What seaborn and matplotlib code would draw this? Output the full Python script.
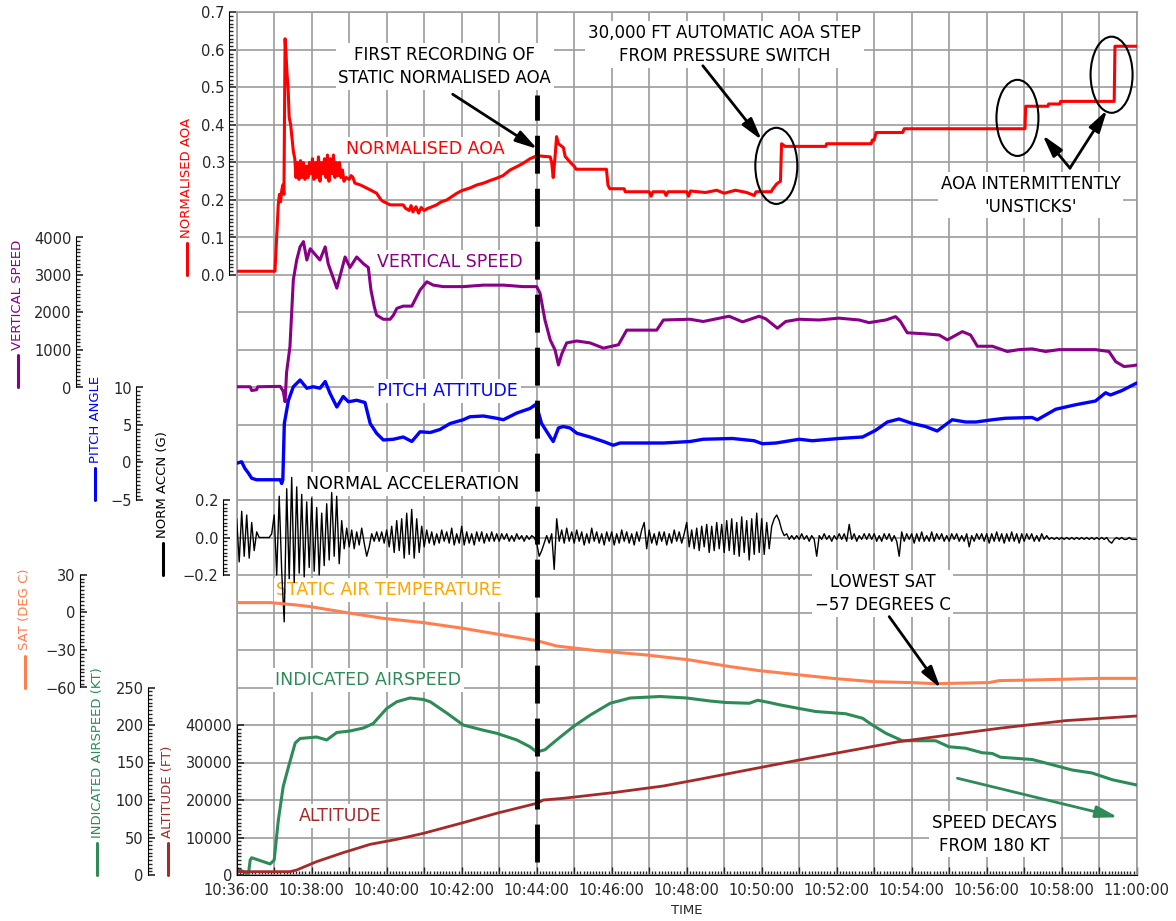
import numpy as np
import pandas as pd
import seaborn as sns
import matplotlib.pyplot as plt
from matplotlib.ticker import FuncFormatter
from matplotlib.patches import Ellipse
from matplotlib.lines import Line2D

sns.set_style("white")
plt.rcParams["font.family"] = ["DejaVu Sans"]

# time is minutes after 10:36:00
AOA = [(0.00, 0.010), (1.02, 0.010), (1.07, 0.110), (1.11, 0.190), (1.14, 0.215), (1.17, 0.195),
       (1.20, 0.225), (1.23, 0.240), (1.26, 0.215), (1.29, 0.630), (1.31, 0.600), (1.34, 0.540),
       (1.37, 0.500), (1.40, 0.420), (1.44, 0.400), (1.47, 0.370), (1.51, 0.330), (1.55, 0.310),
       (1.58, 0.260), (1.62, 0.300), (1.66, 0.255), (1.70, 0.305), (1.74, 0.260), (1.78, 0.300),
       (1.82, 0.255), (1.86, 0.290), (1.90, 0.260), (1.94, 0.300), (1.98, 0.270), (2.02, 0.310),
       (2.06, 0.255), (2.10, 0.300), (2.14, 0.260), (2.18, 0.315), (2.22, 0.250), (2.26, 0.300),
       (2.30, 0.270), (2.34, 0.310), (2.38, 0.260), (2.42, 0.320), (2.46, 0.250), (2.50, 0.310),
       (2.54, 0.270), (2.58, 0.320), (2.62, 0.260), (2.66, 0.300), (2.70, 0.265), (2.74, 0.300),
       (2.78, 0.260), (2.82, 0.280), (2.86, 0.250), (2.92, 0.260), (3.00, 0.255), (3.05, 0.265),
       (3.10, 0.260), (3.15, 0.245), (3.30, 0.240), (3.38, 0.236), (3.56, 0.227), (3.73, 0.218),
       (3.85, 0.200), (3.91, 0.196), (4.09, 0.187), (4.44, 0.187), (4.50, 0.178), (4.60, 0.172),
       (4.65, 0.185), (4.70, 0.168), (4.78, 0.182), (4.85, 0.165), (4.92, 0.180), (5.00, 0.172),
       (5.10, 0.178), (5.16, 0.180), (5.33, 0.187), (5.45, 0.195), (5.60, 0.200), (5.75, 0.210),
       (5.87, 0.218), (6.00, 0.225), (6.22, 0.232), (6.40, 0.240), (6.58, 0.245), (6.76, 0.252),
       (6.93, 0.258), (7.10, 0.265), (7.29, 0.280), (7.45, 0.288), (7.64, 0.298), (7.82, 0.310),
       (8.00, 0.318), (8.36, 0.315), (8.40, 0.300), (8.44, 0.260), (8.49, 0.316), (8.53, 0.369),
       (8.58, 0.350), (8.71, 0.340), (8.76, 0.316), (8.90, 0.300), (9.00, 0.290), (9.05, 0.282),
       (9.86, 0.282), (9.90, 0.240), (9.95, 0.230), (10.33, 0.230), (10.36, 0.222), (11.00, 0.222),
       (11.05, 0.210), (11.10, 0.222), (11.40, 0.222), (11.45, 0.212), (11.50, 0.222), (12.00, 0.222),
       (12.05, 0.210), (12.10, 0.224), (12.50, 0.220), (12.80, 0.226), (13.00, 0.218), (13.30, 0.226),
       (13.60, 0.220), (13.80, 0.212), (13.85, 0.222), (14.25, 0.222), (14.30, 0.230), (14.40, 0.243),
       (14.50, 0.250), (14.53, 0.350), (14.62, 0.343), (15.71, 0.343), (15.73, 0.350), (16.92, 0.350),
       (16.95, 0.360), (17.00, 0.360), (17.05, 0.380), (17.76, 0.380), (17.80, 0.390), (21.02, 0.390),
       (21.04, 0.450), (21.63, 0.450), (21.65, 0.456), (21.95, 0.456), (21.97, 0.463), (23.40, 0.463),
       (23.42, 0.610), (24.00, 0.610)]

VSPEED = [(0.00, 20), (0.36, 20), (0.40, -80), (0.53, -60), (0.56, 20), (1.16, 30), (1.24, -100),
          (1.29, -380), (1.33, 400), (1.42, 1090), (1.51, 2870), (1.60, 3400), (1.69, 3750),
          (1.78, 3890), (1.87, 3400), (1.96, 3700), (2.09, 3550), (2.22, 3400), (2.36, 3750),
          (2.44, 3300), (2.67, 2650), (2.89, 3480), (3.02, 3200), (3.20, 3480), (3.38, 3300),
          (3.51, 3200), (3.58, 2600), (3.67, 2150), (3.73, 1930), (3.91, 1820), (4.09, 1820),
          (4.18, 1930), (4.27, 2110), (4.44, 2170), (4.67, 2170), (4.76, 2350), (4.89, 2600),
          (5.07, 2820), (5.24, 2730), (5.51, 2690), (6.04, 2690), (6.58, 2730), (7.11, 2730),
          (7.64, 2690), (8.00, 2690), (8.09, 2510), (8.22, 1800), (8.36, 1270), (8.49, 1000),
          (8.58, 600), (8.67, 900), (8.80, 1190), (9.07, 1240), (9.42, 1190), (9.78, 1050),
          (10.18, 1140), (10.40, 1530), (10.67, 1530), (11.20, 1530), (11.38, 1800), (12.09, 1820),
          (12.44, 1760), (13.13, 1900), (13.49, 1750), (13.93, 1900), (14.11, 1830), (14.42, 1580),
          (14.64, 1760), (15.00, 1820), (15.53, 1800), (16.06, 1850), (16.60, 1800), (16.86, 1730),
          (17.31, 1800), (17.57, 1890), (17.70, 1760), (17.88, 1460), (18.37, 1430), (18.73, 1400),
          (18.95, 1270), (19.35, 1490), (19.57, 1400), (19.75, 1100), (20.15, 1100), (20.55, 960),
          (20.86, 1010), (21.21, 1030), (21.57, 960), (21.93, 1010), (22.28, 1010), (22.90, 1010),
          (23.26, 960), (23.44, 690), (23.66, 560), (23.88, 580), (24.00, 600)]

PITCH = [(0.00, -0.1), (0.13, 0.1), (0.22, -0.8), (0.31, -1.4), (0.40, -2.1), (0.53, -2.3),
         (1.16, -2.3), (1.20, -2.8), (1.23, -2.3), (1.27, 5.2), (1.38, 8.3), (1.51, 10.1),
         (1.69, 11.0), (1.87, 9.9), (2.04, 10.1), (2.22, 9.9), (2.36, 10.8), (2.49, 9.2),
         (2.67, 7.4), (2.84, 8.8), (2.98, 8.1), (3.20, 8.3), (3.42, 8.0), (3.56, 5.2), (3.73, 3.9),
         (3.91, 3.0), (4.18, 3.1), (4.44, 3.4), (4.67, 2.8), (4.89, 4.1), (5.16, 4.0), (5.42, 4.4),
         (5.69, 5.2), (6.04, 5.7), (6.22, 6.1), (6.58, 6.2), (6.93, 5.9), (7.11, 5.7), (7.47, 6.6),
         (7.82, 7.2), (7.96, 7.7), (8.04, 6.8), (8.13, 5.2), (8.36, 3.4), (8.44, 2.8), (8.58, 4.6),
         (8.71, 4.8), (8.89, 4.6), (9.07, 3.9), (9.42, 3.4), (9.78, 2.8), (10.04, 2.3), (10.22, 2.6),
         (10.67, 2.6), (11.38, 2.6), (12.09, 2.8), (12.44, 3.1), (13.22, 3.2), (13.80, 2.9),
         (14.02, 2.5), (14.38, 2.6), (15.00, 3.1), (15.35, 2.9), (16.06, 3.2), (16.69, 3.4),
         (17.04, 4.3), (17.35, 5.4), (17.66, 5.8), (18.02, 5.2), (18.37, 4.8), (18.68, 4.2),
         (19.08, 5.7), (19.44, 5.4), (19.71, 5.4), (20.15, 5.7), (20.50, 5.9), (21.21, 6.0),
         (21.35, 5.7), (21.84, 7.1), (22.37, 7.7), (22.90, 8.2), (23.17, 9.3), (23.30, 9.0),
         (23.61, 9.6), (24.00, 10.6)]

# normal acceleration, one row per minute, 15 samples (4 s apart)
ACCN_ROWS = [
    [0.10, -0.13, 0.14, -0.10, 0.12, -0.11, 0.08, -0.07, 0.03, 0.00, 0.00, 0.00, 0.00, 0.00, 0.02],
    [0.12, -0.20, 0.22, -0.18, -0.45, 0.26, -0.22, 0.32, -0.24, 0.27, -0.19, 0.23, -0.21, 0.19, -0.16],
    [0.21, -0.18, 0.16, -0.20, 0.13, -0.15, 0.18, -0.12, 0.24, -0.10, 0.22, -0.14, 0.09, -0.06, 0.05],
    [-0.05, 0.04, -0.06, 0.03, -0.04, 0.05, -0.03, -0.10, -0.05, 0.02, -0.02, 0.03, -0.02, 0.03, -0.03],
    [0.04, -0.05, 0.06, -0.08, 0.09, -0.07, 0.10, -0.11, 0.13, -0.09, 0.15, -0.11, 0.10, -0.08, 0.06],
    [-0.05, 0.04, -0.03, 0.03, -0.04, 0.02, -0.03, 0.04, -0.02, 0.03, -0.03, 0.05, -0.04, 0.02, -0.03],
    [0.06, -0.04, 0.03, -0.03, 0.02, -0.04, 0.03, -0.02, 0.03, -0.03, 0.02, -0.02, 0.03, -0.02, 0.02],
    [-0.02, 0.02, -0.01, 0.02, -0.02, 0.01, -0.02, 0.02, -0.01, 0.01, -0.02, 0.01, -0.01, 0.01, 0.00],
    [-0.03, -0.10, -0.07, -0.03, 0.01, -0.03, 0.02, -0.17, 0.10, -0.02, 0.04, -0.03, 0.05, -0.02, 0.03],
    [-0.03, 0.04, -0.02, 0.03, -0.04, 0.02, -0.03, 0.05, -0.02, 0.03, -0.03, 0.02, -0.04, 0.03, -0.02],
    [0.03, -0.04, 0.02, -0.03, 0.04, -0.02, 0.03, -0.03, 0.02, -0.04, 0.03, -0.02, 0.04, 0.08, -0.06],
    [0.04, -0.03, 0.02, -0.04, 0.03, -0.02, 0.03, -0.04, 0.02, -0.03, 0.04, -0.02, 0.03, -0.03, 0.02],
    [0.08, -0.05, 0.04, -0.06, 0.05, -0.07, 0.06, -0.05, 0.07, -0.08, 0.06, -0.07, 0.08, -0.06, 0.07],
    [-0.08, 0.09, -0.07, 0.10, -0.09, 0.08, -0.10, 0.11, -0.08, 0.09, -0.12, 0.10, -0.09, 0.13, -0.08],
    [0.10, -0.09, 0.08, -0.06, 0.06, 0.10, 0.12, 0.09, 0.04, 0.01, 0.02, -0.01, 0.01, -0.01, 0.01],
    [-0.01, 0.02, -0.01, 0.01, -0.02, 0.01, -0.01, -0.10, 0.01, -0.01, 0.02, -0.01, 0.01, -0.02, 0.01],
    [-0.01, 0.02, -0.01, 0.02, -0.02, 0.07, -0.01, 0.02, -0.02, 0.01, -0.01, 0.02, -0.01, 0.02, -0.01],
    [0.02, -0.02, 0.01, -0.02, 0.02, -0.01, 0.02, -0.02, 0.01, -0.02, -0.10, 0.03, -0.02, 0.02, -0.01],
    [0.02, -0.03, 0.02, -0.02, 0.03, -0.02, 0.01, -0.02, 0.03, -0.02, 0.02, -0.01, 0.02, -0.02, 0.01],
    [-0.02, 0.02, -0.01, 0.02, -0.02, 0.01, -0.02, 0.02, -0.05, 0.01, -0.02, 0.02, -0.01, 0.02, -0.02],
    [0.02, -0.03, 0.02, -0.02, 0.03, -0.02, 0.02, -0.03, 0.02, -0.02, 0.03, -0.02, 0.02, -0.03, 0.02],
    [-0.02, 0.02, -0.01, 0.02, -0.02, 0.01, -0.02, 0.02, -0.01, 0.01, -0.01, 0.00, -0.01, 0.00, -0.01],
    [0.00, -0.01, 0.00, -0.01, 0.00, -0.01, 0.00, -0.01, 0.00, -0.01, 0.00, -0.01, 0.00, -0.01, 0.00],
    [-0.01, 0.00, -0.01, 0.00, -0.02, -0.03, -0.01, 0.00, -0.01, 0.00, -0.01, -0.01, 0.00, -0.01, -0.01],
]

SAT = [(0.00, 7.9), (0.89, 7.9), (1.60, 6.0), (1.96, 4.7), (2.93, -0.1), (3.91, -4.7), (4.98, -8.1),
       (6.04, -12.7), (6.93, -17.2), (8.00, -22.5), (8.53, -26.8), (9.60, -30.5), (10.93, -34.0),
       (12.09, -38.0), (13.16, -43.3), (13.93, -46.5), (15.89, -52.7), (16.95, -55.3),
       (18.02, -56.1), (18.66, -57.0), (18.99, -56.7), (20.06, -56.1), (20.33, -54.5),
       (21.21, -54.0), (22.99, -52.7), (24.00, -52.7)]

IAS = [(0.00, 8.9), (0.18, 4.4), (0.31, 0.0), (0.36, 20), (0.40, 23), (0.71, 17.8), (0.89, 14.7),
       (1.00, 20), (1.11, 73), (1.24, 118), (1.38, 144), (1.56, 176), (1.69, 182), (2.13, 184),
       (2.40, 180), (2.67, 190), (3.02, 192), (3.38, 196), (3.64, 202), (4.00, 222), (4.27, 231),
       (4.62, 236), (4.98, 234), (5.16, 231), (5.60, 216), (6.04, 200), (6.58, 193), (6.93, 189),
       (7.47, 180), (7.82, 171), (8.00, 164), (8.22, 167), (8.53, 180), (8.98, 198), (9.42, 213),
       (9.96, 229), (10.49, 236), (11.29, 238), (12.00, 236), (12.62, 232), (13.04, 230),
       (13.67, 229), (13.89, 233), (14.20, 230), (14.47, 227), (15.00, 222), (15.44, 218),
       (16.24, 215), (16.69, 209), (16.95, 200), (17.31, 189), (17.75, 179), (18.64, 179),
       (18.99, 171), (19.44, 169), (19.88, 163), (20.15, 162), (20.37, 157), (21.21, 154),
       (21.75, 147), (22.28, 140), (22.81, 136), (23.35, 127), (24.00, 120)]

ALTITUDE = [(0.00, 890), (1.42, 890), (1.60, 1330), (2.13, 3560), (2.84, 5960), (3.56, 8180),
            (4.27, 9510), (4.98, 11110), (6.04, 13960), (6.93, 16450), (8.00, 19110), (8.18, 20000),
            (8.71, 20450), (10.04, 21960), (11.38, 23740), (12.33, 25510), (15.00, 30670),
            (17.66, 35560), (20.33, 39120), (22.10, 41160), (24.00, 42400)]

FIRST_STATIC_T = 8.0
TICK_TIMES = list(range(0, 25))

W, H = 1176, 921
L, R, T, B = 236.7, 1136.7, 12.5, 875.0
NG = 23  # horizontal grid intervals
rect = [L / W, 1 - B / H, (R - L) / W, (B - T) / H]

fig = plt.figure(figsize=(W / 100, H / 100), dpi=100)
ax = fig.add_axes(rect)
ax.set_xlim(0, 24)
ax.set_ylim(0, NG)
ax.set_xticks(TICK_TIMES)
ax.set_xticks(np.arange(0, 24.001, 1 / 12), minor=True)
ax.xaxis.set_major_formatter(FuncFormatter(
    lambda m, p: f"{10 + (36 + int(round(m))) // 60}:{(36 + int(round(m))) % 60:02d}:00"
    if int(round(m)) % 2 == 0 else ""))
ax.set_yticks(range(NG + 1))
ax.set_yticklabels([])
ax.tick_params(axis="y", length=0)
ax.tick_params(axis="x", which="both", bottom=True, direction="in")
ax.tick_params(axis="x", which="major", length=6, width=1, labelsize=10.5, pad=6)
ax.tick_params(axis="x", which="minor", length=3, width=1)
ax.grid(True, color="#9c9c9c", lw=1.2)
ax.set_axisbelow(True)
for s in ("top", "right", "left"):
    ax.spines[s].set_color("#9c9c9c")
    ax.spines[s].set_linewidth(1.2)
ax.spines["bottom"].set_color("black")
ax.set_xlabel("TIME", fontsize=9.5, labelpad=4)


def band(top_v, bot_v, g_top, g_bot, step, off_px, fmt):
    a = fig.add_axes(rect)
    a.patch.set_visible(False)
    u = (top_v - bot_v) / (g_bot - g_top)
    a.set_xlim(0, 24)
    a.set_ylim(bot_v - (NG - g_bot) * u, top_v + g_top * u)
    for s in ("top", "right", "bottom"):
        a.spines[s].set_visible(False)
    a.spines["left"].set_position(("outward", off_px * 0.72))
    a.spines["left"].set_bounds(bot_v, top_v)
    a.spines["left"].set_color("black")
    a.xaxis.set_visible(False)
    a.set_yticks(np.arange(bot_v, top_v + step / 2, step))
    a.set_yticks(np.linspace(bot_v, top_v, 10 * (g_bot - g_top) + 1), minor=True)
    a.yaxis.set_major_formatter(FuncFormatter(
        lambda v, p: (fmt % (round(v, 6) + 0.0)).replace("-", "\u2212")))
    a.tick_params(axis="y", which="both", left=True, direction="in", labelsize=10.5, pad=3)
    a.tick_params(axis="y", which="major", length=5, width=1.2)
    a.tick_params(axis="y", which="minor", length=3, width=1)
    return a


def draw(a, pairs, color, lw):
    df = pd.DataFrame(pairs, columns=["t", "v"])
    sns.lineplot(data=df, x="t", y="v", ax=a, color=color, lw=lw,
                 estimator=None, sort=False, legend=False)
    a.set_xlabel("")
    a.set_ylabel("")
    a.set_xlim(0, 24)


accn_pairs = []
for m, row in enumerate(ACCN_ROWS):
    for j, v in enumerate(row):
        accn_pairs.append((m + j / 15, v))
accn_pairs.append((24.0, -0.01))

series = [
    # data, color, lw, top, bottom, g_top, g_bot, step, offset px, fmt, label, label x
    (AOA, "#ff0000", 2.2, 0.7, 0.0, 0, 7, 0.1, 7.7, "%.1f", "NORMALISED AOA", 187),
    (VSPEED, "#880088", 2.2, 4000, 0, 6, 10, 1000, 160.7, "%d", "VERTICAL SPEED", 18),
    (PITCH, "#0000ff", 2.4, 10, -5, 10, 13, 5, 100.7, "%d", "PITCH ANGLE", 95),
    (accn_pairs, "black", 1.0, 0.2, -0.2, 13, 15, 0.2, 14, "%.1f", "NORM ACCN (G)", 163),
    (SAT, "#ff7f50", 2.2, 30, -60, 15, 18, 30, 156.7, "%d", "SAT (DEG C)", 25),
    (IAS, "#2e8b57", 2.2, 250, 0, 18, 23, 50, 88.7, "%d", "INDICATED AIRSPEED (KT)", 97),
    (ALTITUDE, "#a52a2a", 2.0, 40000, 0, 19, 23, 10000, 0, "%d", "ALTITUDE (FT)", 168),
]

for data, color, lw, top_v, bot_v, g_top, g_bot, step, off, fmt, label, lx in series:
    a = band(top_v, bot_v, g_top, g_bot, step, off, fmt)
    draw(a, data, color, lw)
    ybot = T + g_bot * 37.5
    fig.add_artist(Line2D([lx / W, lx / W], [1 - ybot / H, 1 - (ybot - 32) / H],
                          color=color, lw=2.2, transform=fig.transFigure))
    fig.text(lx / W, 1 - (ybot - 37) / H, label, rotation=90, ha="center", va="bottom",
             color=color, fontsize=9.5)

# in-plot labels (time, grid units from bottom)
box = dict(fc="white", ec="none", pad=2)
for txt, x, y, c in [("NORMALISED AOA", 5.02, 19.36, "#ff0000"),
                     ("VERTICAL SPEED", 5.67, 16.35, "#880088"),
                     ("PITCH ATTITUDE", 5.62, 12.91, "#0000ff"),
                     ("NORMAL ACCELERATION", 4.69, 10.43, "black"),
                     ("STATIC AIR TEMPERATURE", 4.07, 7.60, "#ffa500"),
                     ("INDICATED AIRSPEED", 3.51, 5.20, "#2e8b57"),
                     ("ALTITUDE", 2.75, 1.57, "#a52a2a")]:
    ax.text(x, y, txt, color=c, fontsize=12.5, ha="center", va="center", bbox=box, zorder=3)

for txt, x, y in [("FIRST RECORDING OF\nSTATIC NORMALISED AOA", 5.55, 21.56),
                  ("30,000 FT AUTOMATIC AOA STEP\nFROM PRESSURE SWITCH", 13.01, 22.15),
                  ("AOA INTERMITTENTLY\n'UNSTICKS'", 21.17, 18.13),
                  ("LOWEST SAT\n\u221257 DEGREES C", 17.22, 7.51),
                  ("SPEED DECAYS\nFROM 180 KT", 20.21, 1.09)]:
    ax.text(x, y, txt, color="black", fontsize=12, ha="center", va="center",
            linespacing=1.35, bbox=box, zorder=3)

ann = fig.add_axes(rect)
ann.set_xlim(0, 24)
ann.set_ylim(0, NG)
ann.axis("off")
ann.plot([FIRST_STATIC_T, FIRST_STATIC_T], [0.35, 20.8], color="black", lw=3.5,
         ls=(0, (7.8, 3.1)), solid_capstyle="butt")
for cx, cy in [(14.39, 18.91), (20.82, 20.19), (23.33, 21.34)]:
    ann.add_patch(Ellipse((cx, cy), 1.12, 2.03, fill=False, ec="black", lw=1.5))

arrow = dict(arrowstyle="-|>,head_length=1.1,head_width=0.3", lw=2, color="black",
             shrinkA=0, shrinkB=0, mutation_scale=12)
for tip, start in [((8.02, 19.36), (5.76, 20.82)),
                   ((14.00, 19.60), (12.43, 21.58)),
                   ((21.49, 19.73), (22.22, 18.85)),
                   ((23.21, 20.40), (22.22, 18.85)),
                   ((18.77, 4.98), (17.40, 6.89))]:
    ann.annotate("", xy=tip, xytext=start, arrowprops=arrow)
ann.annotate("", xy=(23.50, 1.54), xytext=(19.22, 2.58),
             arrowprops=dict(arrow, color="#2e8b57"))

fig.savefig("out.png", dpi=100)
